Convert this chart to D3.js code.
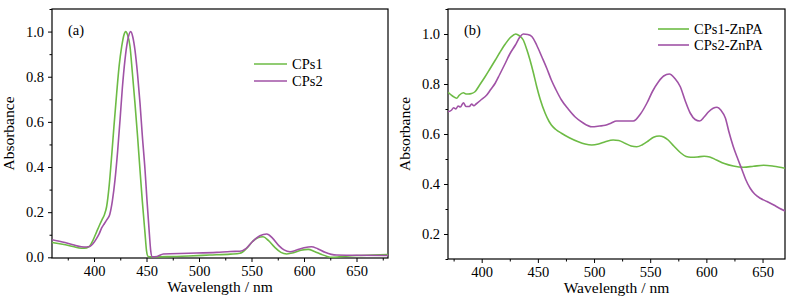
<!DOCTYPE html>
<html><head><meta charset="utf-8">
<script src="https://cdn.jsdelivr.net/npm/d3@7"></script>
<style>body{margin:0;background:#fff}svg{display:block}</style>
</head><body><svg id="c" width="795" height="302"></svg>
<script>
// Panel (a) data: [wavelength nm, absorbance]
const cps1 = [[360,0.066],[370,0.058],[380,0.048],[388,0.040],[393,0.042],[396,0.05],[399,0.075],[402.5,0.113],[405,0.14],[408,0.17],[410,0.19],[412,0.224],[414.5,0.32],[417,0.46],[419,0.58],[421.6,0.727],[424,0.85],[426.4,0.934],[428.5,0.985],[430.2,1.0],[432,0.985],[434.3,0.934],[436.5,0.82],[439,0.683],[441.5,0.535],[443.8,0.387],[446,0.25],[448.6,0.106],[450,0.03],[451.5,0.004],[455,0.002],[470,0.003],[490,0.006],[510,0.01],[530,0.014],[539,0.018],[545,0.038],[551,0.07],[556,0.087],[561,0.091],[566,0.075],[572,0.045],[578,0.022],[583.5,0.015],[590,0.02],[597,0.031],[604,0.035],[610,0.026],[617,0.012],[622,0.004],[626,0.0],[635,0.003],[650,0.008],[665,0.01],[680,0.012]];
const cps2 = [[360,0.078],[370,0.068],[380,0.056],[388,0.047],[393,0.046],[396,0.048],[399,0.06],[402.5,0.084],[405,0.105],[407.3,0.13],[410,0.15],[412,0.165],[415,0.19],[417.5,0.25],[420,0.343],[422.5,0.47],[424.8,0.609],[427,0.75],[429.5,0.875],[432,0.96],[435,1.0],[437,0.975],[439,0.919],[441.5,0.81],[443.8,0.684],[446,0.54],[448.6,0.387],[450.5,0.25],[452.7,0.106],[454,0.03],[455.5,0.002],[460,0.004],[466,0.015],[490,0.018],[517,0.022],[530,0.026],[539,0.027],[545,0.04],[551,0.07],[558,0.096],[564.5,0.103],[570,0.085],[576,0.052],[581,0.033],[586.7,0.025],[593,0.032],[600,0.042],[607,0.047],[613,0.038],[620,0.022],[626,0.013],[631,0.01],[650,0.009],[680,0.008]];
// Panel (b) data
const cps1zn = [[370,0.767],[374,0.752],[377.7,0.743],[380,0.755],[383.7,0.765],[386,0.76],[388,0.76],[391,0.762],[394,0.769],[398,0.795],[403,0.829],[407,0.858],[412,0.895],[416,0.925],[421,0.96],[426,0.988],[430.3,1.0],[433.5,0.993],[437,0.976],[440,0.94],[443,0.896],[446,0.845],[449,0.789],[452,0.74],[456.5,0.683],[460,0.65],[462,0.636],[466,0.618],[471,0.603],[478,0.585],[486,0.569],[492,0.56],[498,0.556],[504,0.56],[510,0.569],[517,0.576],[522,0.574],[528,0.562],[533,0.552],[538,0.549],[543,0.557],[548.5,0.573],[553,0.587],[558,0.592],[562,0.588],[566,0.576],[571,0.552],[577,0.525],[582,0.51],[586,0.507],[592,0.508],[598,0.511],[603,0.508],[609,0.496],[616,0.482],[624,0.472],[633,0.467],[642,0.471],[651,0.475],[660,0.471],[670,0.463]];
const cps2zn = [[370,0.689],[373,0.695],[375,0.705],[377,0.70],[379,0.712],[381,0.708],[383.7,0.725],[386,0.71],[389,0.71],[391,0.72],[393,0.713],[395,0.72],[399,0.735],[404.5,0.756],[408,0.778],[412,0.803],[416,0.838],[421,0.883],[425,0.92],[430,0.956],[434,0.988],[437,1.0],[441,0.998],[444.6,0.99],[449,0.955],[453.5,0.909],[458,0.862],[462,0.816],[466,0.778],[471,0.736],[477,0.7],[483,0.669],[490,0.645],[498,0.629],[505,0.632],[510,0.635],[515,0.643],[520,0.652],[528,0.652],[535,0.652],[541,0.678],[547,0.723],[552,0.77],[557.4,0.809],[562,0.832],[567,0.84],[572,0.822],[576.8,0.789],[581,0.735],[585.7,0.683],[590,0.658],[594,0.652],[598,0.668],[602,0.689],[606,0.703],[609.5,0.707],[613,0.695],[617,0.663],[620,0.61],[624,0.549],[628,0.5],[631.8,0.456],[635,0.418],[639,0.383],[643,0.36],[648,0.343],[654,0.33],[660,0.316],[665,0.303],[670,0.292]];

const xTicksA = [400,450,500,550,600,650];
const yTicksA = [0.0,0.2,0.4,0.6,0.8,1.0];
const xTicksB = [400,450,500,550,600,650];
const yTicksB = [0.2,0.4,0.6,0.8,1.0];
const namesA = ["CPs1","CPs2"];
const namesB = ["CPs1-ZnPA","CPs2-ZnPA"];
const colors = ["#6dbb45","#a052a6"];

const svg = d3.select("#c");
const FONT = "'Liberation Serif','Times New Roman',serif";

function panel(cfg){
  const g = svg.append("g");
  const x = d3.scaleLinear().domain(cfg.xd).range([cfg.l, cfg.r]);
  const y = d3.scaleLinear().domain(cfg.yd).range([cfg.b, cfg.t]);
  const xm = [];
  for(let v=Math.ceil(cfg.xd[0]/25)*25; v<=cfg.xd[1]; v+=25) if(v%50!==0) xm.push(v);
  const ym = [];
  for(let v=Math.ceil(cfg.yd[0]*10)/10; v<=cfg.yd[1]+1e-9; v+=0.1){ const r=Math.round(v*10); if(r%2!==0) ym.push(r/10); }
  g.append("g").attr("transform",`translate(0,${cfg.b})`)
    .call(d3.axisBottom(x).tickValues(cfg.xt).tickSize(4).tickPadding(4).tickFormat(d3.format("d")));
  g.append("g").attr("transform",`translate(0,${cfg.b})`)
    .call(d3.axisBottom(x).tickValues(xm).tickSize(2.5).tickFormat(""));
  g.append("g").attr("transform",`translate(${cfg.l},0)`)
    .call(d3.axisLeft(y).tickValues(cfg.yt).tickSize(4).tickPadding(4).tickFormat(d3.format(".1f")));
  g.append("g").attr("transform",`translate(${cfg.l},0)`)
    .call(d3.axisLeft(y).tickValues(ym).tickSize(2.5).tickFormat(""));
  g.selectAll(".domain").remove();
  g.selectAll(".tick line").attr("stroke","#000").attr("stroke-width",1);
  g.selectAll(".tick text").attr("font-family",FONT).attr("font-size",14.5).attr("fill","#000");
  g.append("rect").attr("x",cfg.l).attr("y",cfg.t).attr("width",cfg.r-cfg.l).attr("height",cfg.b-cfg.t)
    .attr("fill","none").attr("stroke","#000").attr("stroke-width",1.2);
  const clipId = "clip"+cfg.id;
  svg.append("clipPath").attr("id",clipId).append("rect")
    .attr("x",cfg.l).attr("y",cfg.t).attr("width",cfg.r-cfg.l).attr("height",cfg.b-cfg.t);
  const line = d3.line().x(d=>x(d[0])).y(d=>y(d[1])).curve(d3.curveMonotoneX);
  cfg.series.forEach((s,i)=>{
    g.append("path").attr("d",line(s)).attr("fill","none").attr("stroke",colors[i])
      .attr("stroke-width",1.6).attr("clip-path",`url(#${clipId})`);
  });
  cfg.names.forEach((n,i)=>{
    const ly = cfg.legY + i*cfg.legDy;
    g.append("line").attr("x1",cfg.legX).attr("x2",cfg.legX+cfg.legW).attr("y1",ly).attr("y2",ly)
      .attr("stroke",colors[i]).attr("stroke-width",1.6);
    g.append("text").attr("x",cfg.legX+cfg.legW+5).attr("y",ly+5).text(n)
      .attr("font-family",FONT).attr("font-size",14.5);
  });
  g.append("text").attr("x",cfg.l+16).attr("y",cfg.t+26).text(cfg.label)
    .attr("font-family",FONT).attr("font-size",14.5);
  g.append("text").attr("x",(cfg.l+cfg.r)/2).attr("y",cfg.b+34).attr("text-anchor","middle")
    .text("Wavelength / nm").attr("font-family",FONT).attr("font-size",15.5);
  g.append("text").attr("transform",`translate(${cfg.l-38},${(cfg.t+cfg.b)/2}) rotate(-90)`)
    .attr("text-anchor","middle").text("Absorbance").attr("font-family",FONT).attr("font-size",15.5);
}

panel({id:"a", l:52, r:388, t:9, b:258, xd:[360,680], yd:[-0.003,1.1], xt:xTicksA, yt:yTicksA,
  series:[cps1,cps2], names:namesA, legX:254, legW:33, legY:64, legDy:17, label:"(a)"});
panel({id:"b", l:448, r:785, t:9, b:259, xd:[370,670], yd:[0.1,1.1], xt:xTicksB, yt:yTicksB,
  series:[cps1zn,cps2zn], names:namesB, legX:658, legW:31, legY:29, legDy:16, label:"(b)"});
</script></body></html>
